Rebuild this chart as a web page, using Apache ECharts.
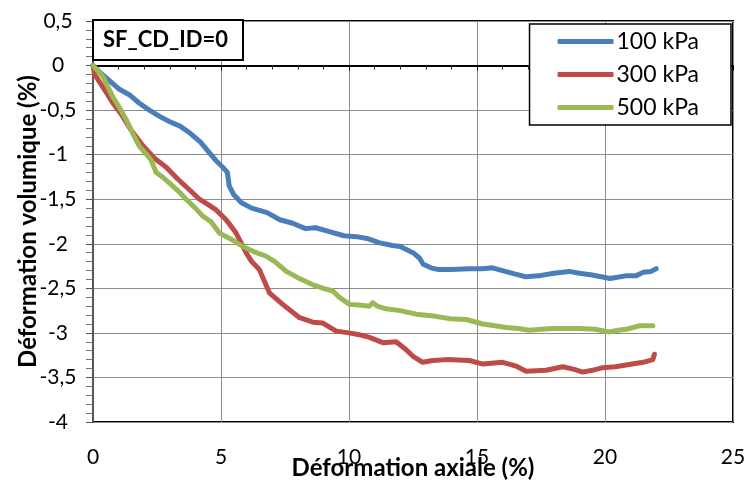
<!DOCTYPE html>
<html>
<head>
  <meta charset="utf-8">
  <script src="https://cdn.jsdelivr.net/npm/echarts@6/dist/echarts.min.js"></script>
  <style>
    html, body { margin: 0; padding: 0; background: #fff; }
    #chart { width: 751px; height: 491px; }
  </style>
</head>
<body>
<div id="chart"></div>
<script>
  // 100 kPa
  let x100 = [0, 0.25, 0.64, 1.0, 1.43, 1.8, 2.2, 2.6, 3.0, 3.4, 3.8, 4.2, 4.55, 4.85, 5.1, 5.25, 5.32, 5.5, 5.8, 6.2, 6.8, 7.3, 7.8, 8.3, 8.7, 9.2, 9.8, 10.3, 10.7, 11.2, 11.7, 12.0, 12.5, 12.75, 12.9, 13.2, 13.5, 14.0, 14.7, 15.2, 15.6, 16.1, 16.5, 16.9, 17.4, 18.0, 18.6, 19.0, 19.5, 20.2, 20.8, 21.2, 21.5, 21.8, 22.0];
  let y100 = [0, -0.07, -0.17, -0.26, -0.33, -0.42, -0.5, -0.57, -0.63, -0.68, -0.76, -0.86, -0.98, -1.08, -1.15, -1.2, -1.35, -1.45, -1.54, -1.6, -1.65, -1.73, -1.77, -1.83, -1.82, -1.86, -1.91, -1.92, -1.94, -1.99, -2.02, -2.03, -2.1, -2.16, -2.23, -2.27, -2.29, -2.29, -2.28, -2.28, -2.27, -2.31, -2.34, -2.37, -2.36, -2.33, -2.31, -2.33, -2.35, -2.39, -2.36, -2.36, -2.32, -2.31, -2.28];
  // 300 kPa
  let x300 = [0, 0.06, 0.45, 0.8, 1.16, 1.5, 1.95, 2.4, 2.86, 3.3, 3.9, 4.16, 4.5, 4.81, 5.2, 5.59, 5.98, 6.2, 6.5, 6.89, 7.41, 8.07, 8.59, 8.98, 9.5, 10.0, 10.4, 10.8, 11.32, 11.84, 12.2, 12.49, 12.88, 13.27, 13.8, 14.7, 15.23, 16.0, 16.5, 16.92, 17.7, 18.35, 18.8, 19.13, 19.5, 19.91, 20.4, 20.83, 21.48, 21.87, 21.93];
  let y300 = [0, -0.1, -0.27, -0.43, -0.57, -0.73, -0.9, -1.04, -1.14, -1.27, -1.43, -1.5, -1.56, -1.62, -1.73, -1.88, -2.1, -2.2, -2.29, -2.55, -2.68, -2.83, -2.88, -2.89, -2.98, -3.0, -3.02, -3.05, -3.11, -3.1, -3.18, -3.26, -3.33, -3.31, -3.3, -3.31, -3.35, -3.33, -3.37, -3.43, -3.42, -3.38, -3.41, -3.44, -3.42, -3.39, -3.38, -3.36, -3.33, -3.3, -3.24];
  // 500 kPa
  let x500 = [0, 0.06, 0.38, 0.77, 1.05, 1.3, 1.55, 1.82, 2.1, 2.27, 2.47, 2.75, 2.99, 3.3, 3.64, 4.0, 4.29, 4.6, 4.94, 5.4, 5.85, 6.3, 6.77, 7.1, 7.55, 8.0, 8.59, 9.0, 9.37, 9.62, 10.02, 10.5, 10.8, 10.93, 11.1, 11.45, 12.0, 12.62, 13.3, 13.93, 14.58, 15.23, 15.7, 16.14, 16.6, 17.05, 17.5, 17.96, 18.5, 19.0, 19.6, 20.18, 20.5, 20.83, 21.35, 21.87];
  let y500 = [0, -0.01, -0.12, -0.35, -0.48, -0.61, -0.76, -0.91, -1.0, -1.06, -1.2, -1.26, -1.32, -1.4, -1.5, -1.6, -1.69, -1.75, -1.88, -1.95, -2.03, -2.09, -2.14, -2.2, -2.31, -2.38, -2.46, -2.5, -2.53, -2.6, -2.68, -2.69, -2.7, -2.66, -2.7, -2.73, -2.75, -2.79, -2.81, -2.84, -2.85, -2.9, -2.92, -2.94, -2.95, -2.97, -2.96, -2.95, -2.95, -2.95, -2.96, -2.99, -2.97, -2.96, -2.92, -2.92];

  let seriesNames = ['100 kPa', '300 kPa', '500 kPa'];
  let seriesColors = ['#4a7ebb', '#be4b48', '#98b954'];
  let xs = [x100, x300, x500];
  let ys = [y100, y300, y500];

  let font = 'Lato, "Open Sans", sans-serif';

  let myChart = echarts.init(document.getElementById('chart'));

  let series = [];
  for (let i = 0; i < seriesNames.length; i++) {
    let data = [];
    for (let k = 0; k < xs[i].length; k++) {
      data.push([xs[i][k], ys[i][k]]);
    }
    series.push({
      name: seriesNames[i],
      type: 'line',
      data: data,
      showSymbol: false,
      symbol: 'none',
      lineStyle: {
        color: seriesColors[i],
        width: 5,
        cap: 'round',
        join: 'round'
      },
      itemStyle: { color: seriesColors[i] }
    });
  }

  let option = {
    animation: false,
    textStyle: { fontFamily: font },
    title: {
      text: 'SF_CD_ID=0',
      left: 93,
      top: 20,
      padding: [9, 15, 9, 10],
      borderColor: '#000',
      borderWidth: 2,
      backgroundColor: '#fff',
      textStyle: {
        fontFamily: font,
        fontSize: 22,
        fontWeight: 'bold',
        color: '#000'
      },
      z: 10
    },
    legend: {
      orient: 'vertical',
      right: 20,
      top: 24,
      padding: [6, 32, 6, 28],
      itemGap: 10,
      itemWidth: 56,
      itemHeight: 5,
      icon: 'roundRect',
      borderColor: '#000',
      borderWidth: 1.5,
      borderRadius: 0,
      backgroundColor: '#fff',
      data: seriesNames,
      textStyle: {
        fontFamily: font,
        fontSize: 23,
        color: '#000',
        padding: [0, 0, 0, -2]
      }
    },
    grid: {
      left: 93,
      right: 18,
      top: 21,
      bottom: 69,
      outerBoundsMode: 'none',
      containLabel: false,
      show: true,
      borderColor: '#000',
      borderWidth: 2
    },
    xAxis: {
      type: 'value',
      min: 0,
      max: 25,
      interval: 5,
      name: 'Déformation axiale (%)',
      nameLocation: 'middle',
      nameGap: 34,
      nameMoveOverlap: false,
      nameTextStyle: {
        fontFamily: font,
        fontSize: 24,
        fontWeight: 'bold',
        color: '#000'
      },
      axisLine: { lineStyle: { color: '#000', width: 2 } },
      axisTick: { show: true, inside: false, length: 5, lineStyle: { color: '#000' } },
      minorTick: { show: true, splitNumber: 5, length: 4, lineStyle: { color: '#333' } },
      axisLabel: {
        fontFamily: font,
        fontSize: 21,
        color: '#000',
        margin: 25
      },
      splitLine: { show: true, lineStyle: { color: '#8c8c8c', width: 1 } }
    },
    yAxis: {
      type: 'value',
      min: -4,
      max: 0.5,
      interval: 0.5,
      name: 'Déformation volumique (%)',
      nameLocation: 'middle',
      nameGap: 53,
      nameMoveOverlap: false,
      nameTextStyle: {
        fontFamily: font,
        fontSize: 24,
        fontWeight: 'bold',
        color: '#000'
      },
      axisLine: { lineStyle: { color: '#555', width: 2 } },
      axisTick: { show: true, inside: false, length: 7, lineStyle: { color: '#555' } },
      minorTick: { show: true, splitNumber: 5, length: 7, lineStyle: { color: '#777' } },
      axisLabel: {
        fontFamily: font,
        fontSize: 21,
        color: '#000',
        align: 'center',
        margin: 35,
        formatter: function (value) {
          return String(value).replace('.', ',');
        }
      },
      splitLine: { show: true, lineStyle: { color: '#8c8c8c', width: 1 } }
    },
    series: series
  };

  myChart.setOption(option);
</script>
</body>
</html>
